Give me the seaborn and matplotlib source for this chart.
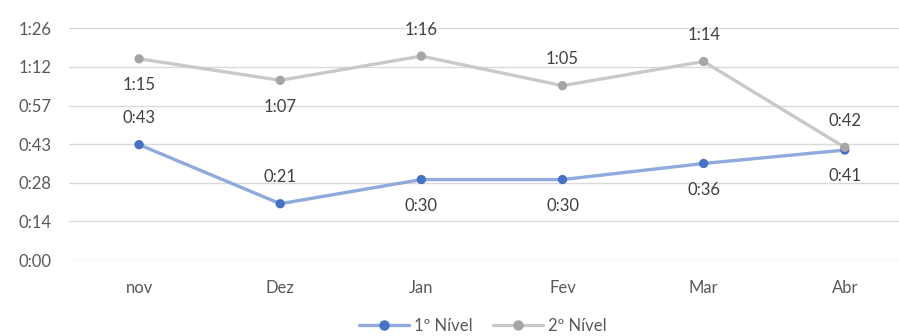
import pandas as pd
import matplotlib.pyplot as plt
from matplotlib.lines import Line2D
import seaborn as sns

# Valores em minutos
meses = ['nov', 'Dez', 'Jan', 'Fev', 'Mar', 'Abr']
nivel1 = [43, 21, 30, 30, 36, 41]
nivel2 = [75, 67, 76, 65, 74, 42]
series = ['1º Nível', '2º Nível']
# posição do rótulo: 1 = acima, -1 = abaixo
pos1 = [1, 1, -1, -1, -1, -1]
pos2 = [-1, -1, 1, 1, 1, 1]
y_ticks = [0, 14.4, 28.8, 43.2, 57.6, 72, 86.4]

sns.set_style("white")
plt.rcParams['font.family'] = ['Lato', 'DejaVu Sans']

def fmt(m):
    m = int(m + 1e-6)
    return f"{m // 60}:{m % 60:02d}"

df = pd.DataFrame({
    'x': list(range(len(meses))) * 2,
    'valor': nivel1 + nivel2,
    'serie': [series[0]] * len(meses) + [series[1]] * len(meses),
})

line_cols = {series[0]: '#8faadc', series[1]: '#c9c9c9'}
mark_cols = {series[0]: '#4472c4', series[1]: '#a5a5a5'}

fig = plt.figure(figsize=(8.99, 3.36), dpi=100)
ax = fig.add_axes([0.0762, 0.226, 0.942, 0.690])

sns.lineplot(data=df, x='x', y='valor', hue='serie', palette=line_cols,
             linewidth=2.4, legend=False, ax=ax, zorder=3)
sns.scatterplot(data=df, x='x', y='valor', hue='serie', palette=mark_cols,
                s=45, edgecolor=None, linewidth=0, legend=False, ax=ax, zorder=4)

for vals, pos in [(nivel1, pos1), (nivel2, pos2)]:
    for i, (v, p) in enumerate(zip(vals, pos)):
        ax.annotate(fmt(v), (i, v), xytext=(0, 19 * p), textcoords='offset points',
                    ha='center', va='center', fontsize=12, color='#404040')

ax.set_xlim(-0.5, 5.5)
ax.set_ylim(0, 86.4)
ax.set_yticks(y_ticks)
ax.set_yticklabels([fmt(t) for t in y_ticks])
ax.set_xticks(range(len(meses)))
ax.set_xticklabels(meses)
ax.tick_params(length=0, labelsize=12, colors='#595959')
ax.tick_params(axis='x', pad=14)
ax.tick_params(axis='y', pad=12)
ax.set_xlabel('')
ax.set_ylabel('')
ax.yaxis.grid(True, color='#d9d9d9', linewidth=1)
ax.set_axisbelow(True)
sns.despine(ax=ax, left=True, bottom=True)

handles = [Line2D([0], [0], color=line_cols[s], lw=2.4, marker='o', markersize=6.5,
                  markerfacecolor=mark_cols[s], markeredgecolor=mark_cols[s])
           for s in series]
fig.legend(handles, series, loc='center', bbox_to_anchor=(0.537, 0.03), ncol=2,
           frameon=False, fontsize=12, labelcolor='#595959', handlelength=3,
           columnspacing=1.2, handletextpad=0.3)

fig.savefig('out.png', dpi=100)
